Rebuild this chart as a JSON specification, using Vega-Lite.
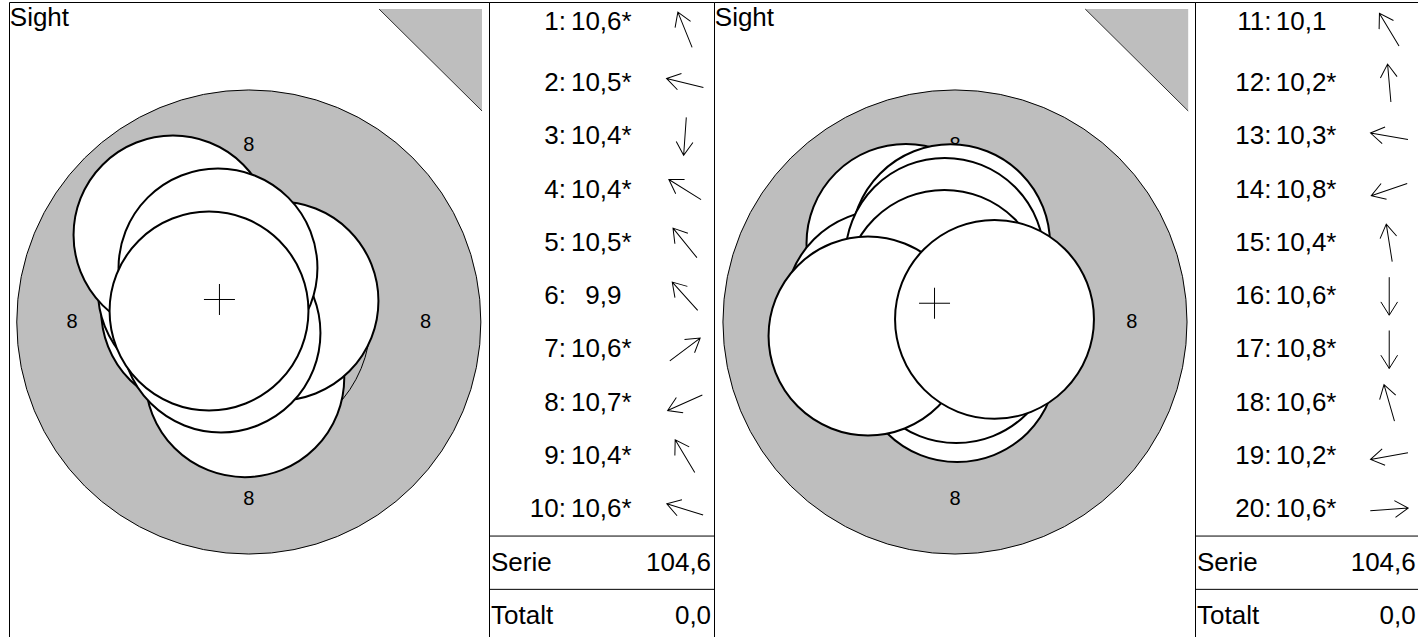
{
  "$schema": "https://vega.github.io/schema/vega-lite/v6.json",
  "padding": {"left": 8, "top": 1, "right": 0, "bottom": 0},
  "spacing": 0,
  "bounds": "flush",
  "datasets": {
    "shots": [
      {"series": 1, "shot": 1, "score": 10.6, "star": "*", "x": -0.328, "y": 0.811, "dir": 338},
      {"series": 1, "shot": 2, "score": 10.5, "star": "*", "x": -1.091, "y": 0.272, "dir": 284},
      {"series": 1, "shot": 3, "score": 10.4, "star": "*", "x": -0.09, "y": -1.26, "dir": 184},
      {"series": 1, "shot": 4, "score": 10.4, "star": "*", "x": -1.166, "y": 0.729, "dir": 302},
      {"series": 1, "shot": 5, "score": 10.5, "star": "*", "x": -0.708, "y": 0.874, "dir": 321},
      {"series": 1, "shot": 6, "score": 9.9, "star": "", "x": -1.715, "y": 1.968, "dir": 318},
      {"series": 1, "shot": 7, "score": 10.6, "star": "*", "x": 0.683, "y": 0.475, "dir": 53},
      {"series": 1, "shot": 8, "score": 10.7, "star": "*", "x": -0.629, "y": -0.249, "dir": 246},
      {"series": 1, "shot": 9, "score": 10.4, "star": "*", "x": -0.697, "y": 1.222, "dir": 329},
      {"series": 1, "shot": 10, "score": 10.6, "star": "*", "x": -0.9, "y": 0.249, "dir": 287},
      {"series": 2, "shot": 11, "score": 10.1, "star": "", "x": -1.109, "y": 1.778, "dir": 329},
      {"series": 2, "shot": 12, "score": 10.2, "star": "*", "x": -0.1, "y": 1.77, "dir": 355},
      {"series": 2, "shot": 13, "score": 10.3, "star": "*", "x": -1.6, "y": 0.282, "dir": 280},
      {"series": 2, "shot": 14, "score": 10.8, "star": "*", "x": -0.355, "y": -0.122, "dir": 251},
      {"series": 2, "shot": 15, "score": 10.4, "star": "*", "x": -0.232, "y": 1.462, "dir": 351},
      {"series": 2, "shot": 16, "score": 10.6, "star": "*", "x": 0.05, "y": -0.919, "dir": 180},
      {"series": 2, "shot": 17, "score": 10.8, "star": "*", "x": 0.03, "y": -0.489, "dir": 180},
      {"series": 2, "shot": 18, "score": 10.6, "star": "*", "x": -0.24, "y": 0.738, "dir": 344},
      {"series": 2, "shot": 19, "score": 10.2, "star": "*", "x": -1.968, "y": -0.317, "dir": 260},
      {"series": 2, "shot": 20, "score": 10.6, "star": "*", "x": 0.894, "y": 0.06, "dir": 86}
    ],
    "rings": [{"ring": 8, "r": 5.25}, {"ring": 9, "r": 2.75}, {"ring": 10, "r": 0.25}],
    "ringLabels": [
      {"label": "8", "x": 0, "y": 4},
      {"label": "8", "x": 4, "y": 0},
      {"label": "8", "x": 0, "y": -4},
      {"label": "8", "x": -4, "y": 0}
    ],
    "marker": [{"x": 2.946, "y": 7.081, "top": 7.081}, {"x": 5.276, "y": 4.774, "top": 7.081}],
    "totals": [{"series": 1, "label": "Totalt", "value": 0}, {"series": 2, "label": "Totalt", "value": 0}]
  },
  "hconcat": [
    {
      "width": 480, "height": 635,
      "layer": [
        {"data": {"name": "rings"},
         "mark": {"type": "point", "shape": "circle", "filled": true, "fill": "#bebebe", "stroke": "black", "strokeWidth": 1, "opacity": 1},
         "encoding": {
           "x": {"datum": 0, "type": "quantitative", "scale": {"domain": [-5.425, 5.434], "nice": false, "zero": false}, "axis": null},
           "y": {"datum": 0, "type": "quantitative", "scale": {"domain": [-7.127, 7.24], "nice": false, "zero": false}, "axis": null},
           "size": {"field": "r", "type": "quantitative", "scale": {"type": "pow", "exponent": 2, "domain": [0, 5.25], "range": [0, 215387]}, "legend": null}
         }},
        {"data": {"name": "ringLabels"},
         "mark": {"type": "text", "fontSize": 20, "align": "center", "baseline": "middle"},
         "encoding": {"x": {"field": "x", "type": "quantitative"}, "y": {"field": "y", "type": "quantitative"}, "text": {"field": "label"}}},
        {"data": {"name": "marker"},
         "mark": {"type": "area", "fill": "#bebebe", "opacity": 1},
         "encoding": {"x": {"field": "x", "type": "quantitative"}, "y": {"field": "y", "type": "quantitative"}, "y2": {"field": "top"}}},
        {"data": {"name": "marker"},
         "mark": {"type": "line", "color": "black", "strokeWidth": 0.8},
         "encoding": {"x": {"field": "x", "type": "quantitative"}, "y": {"field": "y", "type": "quantitative"}}},
        {"data": {"name": "shots"},
         "transform": [{"filter": "datum.series == 1"}],
         "mark": {"type": "point", "shape": "circle", "filled": true, "fill": "white", "stroke": "black", "strokeWidth": 2, "opacity": 1},
         "encoding": {"x": {"field": "x", "type": "quantitative"}, "y": {"field": "y", "type": "quantitative"}, "size": {"datum": 2.25, "type": "quantitative"}}},
        {"data": {"name": "shots"},
         "transform": [{"filter": "datum.series == 1"}, {"aggregate": [{"op": "mean", "field": "x", "as": "mx"}, {"op": "mean", "field": "y", "as": "my"}]}],
         "mark": {"type": "point", "shape": "M-1,0L1,0M0,-1L0,1", "size": 961, "filled": false, "stroke": "black", "strokeWidth": 1, "opacity": 1},
         "encoding": {"x": {"field": "mx", "type": "quantitative"}, "y": {"field": "my", "type": "quantitative"}}},
        {"data": {"values": [{"label": "Sight"}]},
         "mark": {"type": "text", "fontSize": 26, "align": "left", "baseline": "alphabetic"},
         "encoding": {"x": {"datum": -5.407, "type": "quantitative"}, "y": {"datum": 6.697, "type": "quantitative"}, "text": {"field": "label"}}}
      ]
    },
    {
      "width": 225, "height": 635,
      "layer": [
        {"data": {"name": "shots"},
         "transform": [{"filter": "datum.series == 1"}, {"window": [{"op": "row_number", "as": "row"}]}],
         "layer": [
           {"mark": {"type": "point", "shape": "M0,1L0,-1M-0.44,-0.3L0,-1L0.44,-0.3", "size": 1444, "filled": false, "stroke": "black", "strokeWidth": 1, "opacity": 1},
            "encoding": {
              "x": {"datum": 0.871, "type": "quantitative", "scale": {"domain": [0, 1], "nice": false, "zero": false}, "axis": null},
              "y": {"field": "row", "type": "quantitative", "scale": {"domain": [0.4803, 12.394], "reverse": true, "nice": false, "zero": false}, "axis": null},
              "angle": {"field": "dir", "type": "quantitative", "scale": {"domain": [0, 360], "range": [0, 360]}}}},
           {"transform": [{"filter": "datum.row > 1"}],
            "layer": [
              {"mark": {"type": "text", "fontSize": 26, "align": "right", "baseline": "middle"},
               "encoding": {"x": {"datum": 0.31, "type": "quantitative"}, "y": {"field": "row", "type": "quantitative"}, "text": {"field": "shot"}}},
              {"mark": {"type": "text", "fontSize": 26, "align": "left", "baseline": "middle", "text": ":"},
               "encoding": {"x": {"datum": 0.31, "type": "quantitative"}, "y": {"field": "row", "type": "quantitative"}}},
              {"mark": {"type": "text", "fontSize": 26, "align": "right", "baseline": "middle"},
               "encoding": {"x": {"datum": 0.589, "type": "quantitative"}, "y": {"field": "row", "type": "quantitative"}, "text": {"field": "score", "format": ".1f"}}},
              {"mark": {"type": "text", "fontSize": 26, "align": "left", "baseline": "middle"},
               "encoding": {"x": {"datum": 0.589, "type": "quantitative"}, "y": {"field": "row", "type": "quantitative"}, "text": {"field": "star"}}}
            ]},
           {"transform": [{"filter": "datum.row == 1"}],
            "layer": [
              {"mark": {"type": "text", "fontSize": 26, "align": "right", "baseline": "middle", "dy": -8},
               "encoding": {"x": {"datum": 0.31, "type": "quantitative"}, "y": {"field": "row", "type": "quantitative"}, "text": {"field": "shot"}}},
              {"mark": {"type": "text", "fontSize": 26, "align": "left", "baseline": "middle", "text": ":", "dy": -8},
               "encoding": {"x": {"datum": 0.31, "type": "quantitative"}, "y": {"field": "row", "type": "quantitative"}}},
              {"mark": {"type": "text", "fontSize": 26, "align": "right", "baseline": "middle", "dy": -8},
               "encoding": {"x": {"datum": 0.589, "type": "quantitative"}, "y": {"field": "row", "type": "quantitative"}, "text": {"field": "score", "format": ".1f"}}},
              {"mark": {"type": "text", "fontSize": 26, "align": "left", "baseline": "middle", "dy": -8},
               "encoding": {"x": {"datum": 0.589, "type": "quantitative"}, "y": {"field": "row", "type": "quantitative"}, "text": {"field": "star"}}}
            ]}
         ]},
        {"data": {"name": "shots"},
         "transform": [{"filter": "datum.series == 1"}, {"aggregate": [{"op": "sum", "field": "score", "as": "total"}]}],
         "layer": [
           {"mark": {"type": "rule", "color": "black", "strokeWidth": 1}, "encoding": {"y": {"datum": 10.5, "type": "quantitative"}}},
           {"mark": {"type": "rule", "color": "black", "strokeWidth": 1}, "encoding": {"y": {"datum": 11.5, "type": "quantitative"}}},
           {"mark": {"type": "text", "fontSize": 26, "align": "left", "baseline": "middle", "text": "Serie"},
            "encoding": {"x": {"datum": 0.009, "type": "quantitative"}, "y": {"datum": 11, "type": "quantitative"}}},
           {"mark": {"type": "text", "fontSize": 26, "align": "right", "baseline": "middle"},
            "encoding": {"x": {"datum": 0.987, "type": "quantitative"}, "y": {"datum": 11, "type": "quantitative"}, "text": {"field": "total", "format": ".1f"}}}
         ]},
        {"data": {"name": "totals"},
         "transform": [{"filter": "datum.series == 1"}],
         "layer": [
           {"mark": {"type": "text", "fontSize": 26, "align": "left", "baseline": "middle"},
            "encoding": {"x": {"datum": 0.009, "type": "quantitative"}, "y": {"datum": 12, "type": "quantitative"}, "text": {"field": "label"}}},
           {"mark": {"type": "text", "fontSize": 26, "align": "right", "baseline": "middle"},
            "encoding": {"x": {"datum": 0.987, "type": "quantitative"}, "y": {"datum": 12, "type": "quantitative"}, "text": {"field": "value", "format": ".1f"}}}
         ]}
      ]
    },
    {
      "width": 481, "height": 635,
      "layer": [
        {"data": {"name": "rings"},
         "mark": {"type": "point", "shape": "circle", "filled": true, "fill": "#bebebe", "stroke": "black", "strokeWidth": 1, "opacity": 1},
         "encoding": {
           "x": {"datum": 0, "type": "quantitative", "scale": {"domain": [-5.452, 5.43], "nice": false, "zero": false}, "axis": null},
           "y": {"datum": 0, "type": "quantitative", "scale": {"domain": [-7.127, 7.24], "nice": false, "zero": false}, "axis": null},
           "size": {"field": "r", "type": "quantitative", "scale": {"type": "pow", "exponent": 2, "domain": [0, 5.25], "range": [0, 215387]}, "legend": null}
         }},
        {"data": {"name": "ringLabels"},
         "mark": {"type": "text", "fontSize": 20, "align": "center", "baseline": "middle"},
         "encoding": {"x": {"field": "x", "type": "quantitative"}, "y": {"field": "y", "type": "quantitative"}, "text": {"field": "label"}}},
        {"data": {"name": "marker"},
         "mark": {"type": "area", "fill": "#bebebe", "opacity": 1},
         "encoding": {"x": {"field": "x", "type": "quantitative"}, "y": {"field": "y", "type": "quantitative"}, "y2": {"field": "top"}}},
        {"data": {"name": "marker"},
         "mark": {"type": "line", "color": "black", "strokeWidth": 0.8},
         "encoding": {"x": {"field": "x", "type": "quantitative"}, "y": {"field": "y", "type": "quantitative"}}},
        {"data": {"name": "shots"},
         "transform": [{"filter": "datum.series == 2"}],
         "mark": {"type": "point", "shape": "circle", "filled": true, "fill": "white", "stroke": "black", "strokeWidth": 2, "opacity": 1},
         "encoding": {"x": {"field": "x", "type": "quantitative"}, "y": {"field": "y", "type": "quantitative"}, "size": {"datum": 2.25, "type": "quantitative"}}},
        {"data": {"name": "shots"},
         "transform": [{"filter": "datum.series == 2"}, {"aggregate": [{"op": "mean", "field": "x", "as": "mx"}, {"op": "mean", "field": "y", "as": "my"}]}],
         "mark": {"type": "point", "shape": "M-1,0L1,0M0,-1L0,1", "size": 961, "filled": false, "stroke": "black", "strokeWidth": 1, "opacity": 1},
         "encoding": {"x": {"field": "mx", "type": "quantitative"}, "y": {"field": "my", "type": "quantitative"}}},
        {"data": {"values": [{"label": "Sight"}]},
         "mark": {"type": "text", "fontSize": 26, "align": "left", "baseline": "alphabetic"},
         "encoding": {"x": {"datum": -5.434, "type": "quantitative"}, "y": {"datum": 6.697, "type": "quantitative"}, "text": {"field": "label"}}}
      ]
    },
    {
      "width": 223, "height": 635,
      "layer": [
        {"data": {"name": "shots"},
         "transform": [{"filter": "datum.series == 2"}, {"window": [{"op": "row_number", "as": "row"}]}],
         "layer": [
           {"mark": {"type": "point", "shape": "M0,1L0,-1M-0.44,-0.3L0,-1L0.44,-0.3", "size": 1444, "filled": false, "stroke": "black", "strokeWidth": 1, "opacity": 1},
            "encoding": {
              "x": {"datum": 0.871, "type": "quantitative", "scale": {"domain": [0, 1], "nice": false, "zero": false}, "axis": null},
              "y": {"field": "row", "type": "quantitative", "scale": {"domain": [0.4803, 12.394], "reverse": true, "nice": false, "zero": false}, "axis": null},
              "angle": {"field": "dir", "type": "quantitative", "scale": {"domain": [0, 360], "range": [0, 360]}}}},
           {"transform": [{"filter": "datum.row > 1"}],
            "layer": [
              {"mark": {"type": "text", "fontSize": 26, "align": "right", "baseline": "middle"},
               "encoding": {"x": {"datum": 0.31, "type": "quantitative"}, "y": {"field": "row", "type": "quantitative"}, "text": {"field": "shot"}}},
              {"mark": {"type": "text", "fontSize": 26, "align": "left", "baseline": "middle", "text": ":"},
               "encoding": {"x": {"datum": 0.31, "type": "quantitative"}, "y": {"field": "row", "type": "quantitative"}}},
              {"mark": {"type": "text", "fontSize": 26, "align": "right", "baseline": "middle"},
               "encoding": {"x": {"datum": 0.589, "type": "quantitative"}, "y": {"field": "row", "type": "quantitative"}, "text": {"field": "score", "format": ".1f"}}},
              {"mark": {"type": "text", "fontSize": 26, "align": "left", "baseline": "middle"},
               "encoding": {"x": {"datum": 0.589, "type": "quantitative"}, "y": {"field": "row", "type": "quantitative"}, "text": {"field": "star"}}}
            ]},
           {"transform": [{"filter": "datum.row == 1"}],
            "layer": [
              {"mark": {"type": "text", "fontSize": 26, "align": "right", "baseline": "middle", "dy": -8},
               "encoding": {"x": {"datum": 0.31, "type": "quantitative"}, "y": {"field": "row", "type": "quantitative"}, "text": {"field": "shot"}}},
              {"mark": {"type": "text", "fontSize": 26, "align": "left", "baseline": "middle", "text": ":", "dy": -8},
               "encoding": {"x": {"datum": 0.31, "type": "quantitative"}, "y": {"field": "row", "type": "quantitative"}}},
              {"mark": {"type": "text", "fontSize": 26, "align": "right", "baseline": "middle", "dy": -8},
               "encoding": {"x": {"datum": 0.589, "type": "quantitative"}, "y": {"field": "row", "type": "quantitative"}, "text": {"field": "score", "format": ".1f"}}},
              {"mark": {"type": "text", "fontSize": 26, "align": "left", "baseline": "middle", "dy": -8},
               "encoding": {"x": {"datum": 0.589, "type": "quantitative"}, "y": {"field": "row", "type": "quantitative"}, "text": {"field": "star"}}}
            ]}
         ]},
        {"data": {"name": "shots"},
         "transform": [{"filter": "datum.series == 2"}, {"aggregate": [{"op": "sum", "field": "score", "as": "total"}]}],
         "layer": [
           {"mark": {"type": "rule", "color": "black", "strokeWidth": 1}, "encoding": {"y": {"datum": 10.5, "type": "quantitative"}}},
           {"mark": {"type": "rule", "color": "black", "strokeWidth": 1}, "encoding": {"y": {"datum": 11.5, "type": "quantitative"}}},
           {"mark": {"type": "text", "fontSize": 26, "align": "left", "baseline": "middle", "text": "Serie"},
            "encoding": {"x": {"datum": 0.009, "type": "quantitative"}, "y": {"datum": 11, "type": "quantitative"}}},
           {"mark": {"type": "text", "fontSize": 26, "align": "right", "baseline": "middle"},
            "encoding": {"x": {"datum": 0.99, "type": "quantitative"}, "y": {"datum": 11, "type": "quantitative"}, "text": {"field": "total", "format": ".1f"}}}
         ]},
        {"data": {"name": "totals"},
         "transform": [{"filter": "datum.series == 2"}],
         "layer": [
           {"mark": {"type": "text", "fontSize": 26, "align": "left", "baseline": "middle"},
            "encoding": {"x": {"datum": 0.009, "type": "quantitative"}, "y": {"datum": 12, "type": "quantitative"}, "text": {"field": "label"}}},
           {"mark": {"type": "text", "fontSize": 26, "align": "right", "baseline": "middle"},
            "encoding": {"x": {"datum": 0.99, "type": "quantitative"}, "y": {"datum": 12, "type": "quantitative"}, "text": {"field": "value", "format": ".1f"}}}
         ]}
      ]
    }
  ],
  "config": {
    "font": "Liberation Sans",
    "view": {"stroke": "black", "strokeWidth": 1},
    "axis": {"disable": true},
    "legend": {"disable": true},
    "text": {"color": "black"},
    "locale": {"number": {"decimal": ",", "thousands": ".", "grouping": [3], "currency": ["", ""]}}
  }
}
